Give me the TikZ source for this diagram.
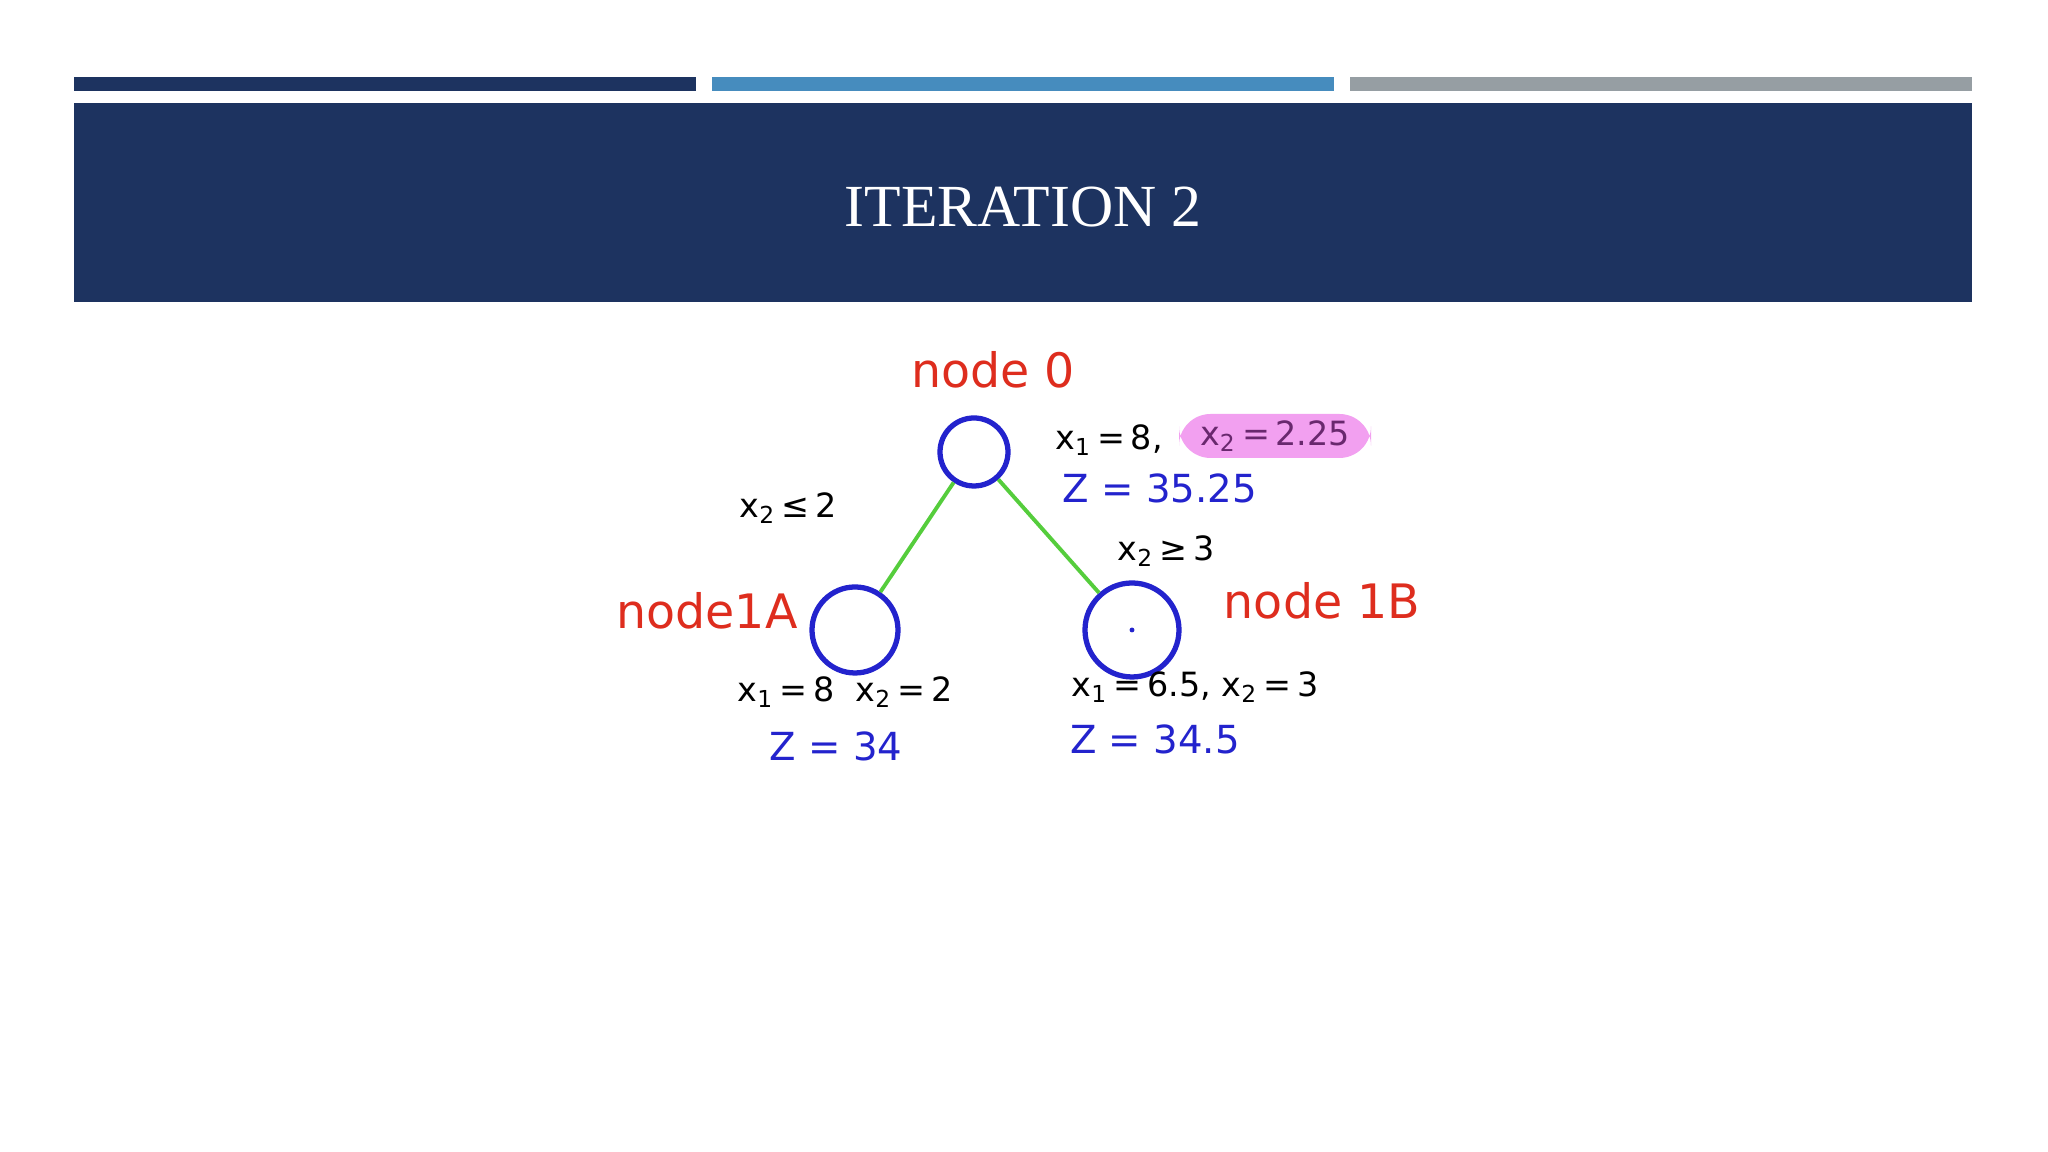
\documentclass[tikz,border=0pt]{standalone}
\usepackage{fontspec}
\setmainfont{Liberation Serif}
\newfontfamily\hand{DejaVu Sans}
\usetikzlibrary{positioning}
\definecolor{navy}{RGB}{29,51,96}
\definecolor{barblue}{RGB}{70,140,190}
\definecolor{bargray}{RGB}{150,158,163}
\definecolor{inkred}{RGB}{222,45,30}
\definecolor{inkblue}{RGB}{35,35,205}
\definecolor{inkgreen}{RGB}{85,205,60}
\definecolor{marker}{RGB}{242,160,240}
\definecolor{inkpurple}{RGB}{105,40,110}
\tikzset{
    vertex/.style ={
        shape=circle,
        draw=inkblue,
        line width=1.5pt,
        inner sep=0pt
    },
    tag/.style ={
        text=inkred,
        font=\hand\fontsize{13.5}{16}\selectfont
    },
    note/.style ={
        text=black,
        font=\hand\fontsize{9.5}{12}\selectfont,
        inner sep=1pt
    },
    zval/.style ={
        text=inkblue,
        font=\hand\fontsize{11}{13}\selectfont
    },
    branch/.style ={
        draw=inkgreen,
        line width=1.1pt
    }
}

\begin{document}
\begin{tikzpicture}
    \useasboundingbox (0,0) rectangle (20.48,11.52);
    \fill[white] (0,0) rectangle (20.48,11.52);
    % top bars and title band
    \fill[navy] (0.74,10.61) rectangle (6.96,10.75);
    \fill[barblue] (7.12,10.61) rectangle (13.34,10.75);
    \fill[bargray] (13.50,10.61) rectangle (19.72,10.75);
    \fill[navy] (0.74,8.50) rectangle (19.72,10.49);
    \node[text=white,font=\fontsize{17}{20}\selectfont] (title) at(10.23,9.45) {ITERATION 2};

    \node[vertex,minimum size=0.68cm] (root) at(9.74,7.00) {};
    \node[vertex,minimum size=0.86cm] (nodeA) at(8.55,5.22) {};
    \node[vertex,minimum size=0.94cm] (nodeB) at(11.32,5.22) {};
    \fill[inkblue] (nodeB.center) circle (0.7pt);
    \draw[branch] (root) -- (nodeA);
    \draw[branch] (root) -- (nodeB);

    \node[tag] (t0) at(9.93,7.82) {node 0};
    \node[tag] (tA) at(7.07,5.41) {node1A};
    \node[tag] (tB) at(13.22,5.51) {node 1B};

    \node[note] (r1) at(11.09,7.12) {x\textsubscript{1}\,=\,8,};
    \node[note,fill=marker,rounded corners=9pt,minimum width=1.92cm,minimum height=0.44cm,text=inkpurple] (r2) at(12.75,7.16) {x\textsubscript{2}\,=\,2.25};
    \node[zval] (rz) at(11.60,6.64) {Z = 35.25};

    \node[note] (cA) at(7.88,6.44) {x\textsubscript{2}\,≤\,2};
    \node[note] (cB) at(11.66,6.01) {x\textsubscript{2}\,≥\,3};

    \node[note] (a1) at(8.45,4.60) {x\textsubscript{1}\,=\,8 \ x\textsubscript{2}\,=\,2};
    \node[zval] (az) at(8.36,4.06) {Z = 34};
    \node[note] (b1) at(11.95,4.65) {x\textsubscript{1}\,=\,6.5, x\textsubscript{2}\,=\,3};
    \node[zval] (bz) at(11.55,4.13) {Z = 34.5};
\end{tikzpicture}
\end{document}
